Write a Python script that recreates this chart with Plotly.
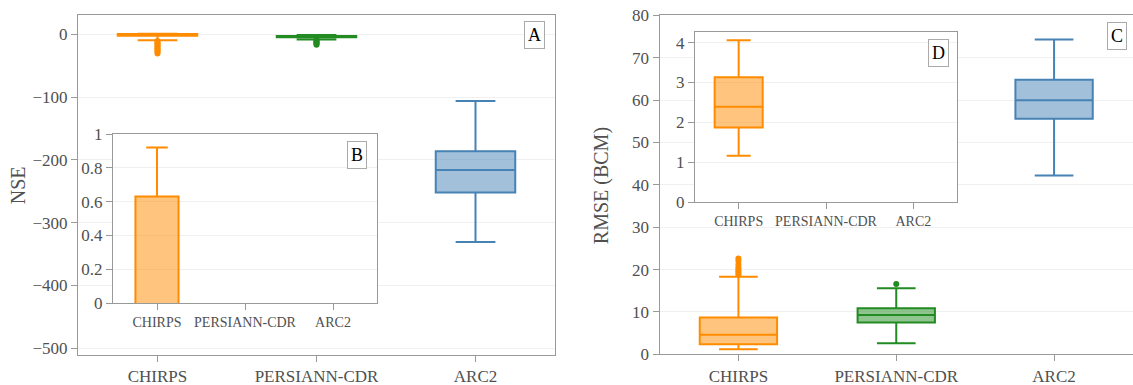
import plotly.graph_objects as go

W, H = 1133, 385

categories = ["CHIRPS", "PERSIANN-CDR", "ARC2"]
colors = ["#ff8c00", "#228b22", "#4682b4"]
fills = ["rgba(255,140,0,0.5)", "rgba(34,139,34,0.5)", "rgba(70,130,180,0.5)"]

# Panel A: NSE box statistics
nse_lowerfence = [-9.2, -8.0, -331]
nse_q1 = [-2.2, -4.6, -252]
nse_median = [-0.6, -3.3, -216]
nse_q3 = [0.63, -2.3, -186]
nse_upperfence = [0.92, -0.8, -106]
nse_outliers = [
    [-10.5, -12, -14, -16, -18, -20, -22, -24, -26, -28, -30.5],
    [-9, -10.5, -12, -13.5, -15, -16.5],
    [],
]

# Panel B (inset of A): CHIRPS NSE zoomed to [0, 1]
nseB_lowerfence = [-9.2]
nseB_q1 = [-2.2]
nseB_median = [-0.6]
nseB_q3 = [0.63]
nseB_upperfence = [0.92]

# Panel C: RMSE (BCM) box statistics
rmse_lowerfence = [1.2, 2.6, 42.2]
rmse_q1 = [2.4, 7.5, 55.6]
rmse_median = [4.6, 9.3, 60.0]
rmse_q3 = [8.7, 10.9, 64.8]
rmse_upperfence = [18.3, 15.6, 74.3]
rmse_outliers = [
    [18.8, 19.2, 19.6, 20.0, 20.5, 21.2, 22.0, 22.6],
    [16.6],
    [],
]

# Panel D (inset of C): CHIRPS RMSE
rmseD_lowerfence = [1.16]
rmseD_q1 = [1.87]
rmseD_median = [2.39]
rmseD_q3 = [3.13]
rmseD_upperfence = [4.06]

FONT = "Liberation Serif"
TXT = "#505050"
LINE = "#999"
GRID = "#f0f0f0"

fig = go.Figure()


def add_boxes(lf, q1, med, q3, uf, idxs, xa, ya, width, outliers=None):
    for k, i in enumerate(idxs):
        fig.add_trace(go.Box(
            x=[i], lowerfence=[lf[k]], q1=[q1[k]], median=[med[k]], q3=[q3[k]],
            upperfence=[uf[k]], width=width, whiskerwidth=0.5,
            fillcolor=fills[i], line=dict(color=colors[i], width=2),
            boxpoints=False, xaxis=xa, yaxis=ya, showlegend=False, hoverinfo="skip"))
        if outliers and outliers[k]:
            fig.add_trace(go.Scatter(
                x=[i] * len(outliers[k]), y=outliers[k], mode="markers",
                marker=dict(color=colors[i], size=6), xaxis=xa, yaxis=ya,
                showlegend=False, hoverinfo="skip"))


add_boxes(nse_lowerfence, nse_q1, nse_median, nse_q3, nse_upperfence, [0, 1, 2], "x", "y", 0.5, nse_outliers)
add_boxes(nseB_lowerfence, nseB_q1, nseB_median, nseB_q3, nseB_upperfence, [0], "x2", "y2", 0.49)
add_boxes(rmse_lowerfence, rmse_q1, rmse_median, rmse_q3, rmse_upperfence, [0, 1, 2], "x3", "y3", 0.49, rmse_outliers)
add_boxes(rmseD_lowerfence, rmseD_q1, rmseD_median, rmseD_q3, rmseD_upperfence, [0], "x4", "y4", 0.55)


def px(x0, x1):
    return [x0 / W, x1 / W]


def py(top, bottom):
    return [1 - bottom / H, 1 - top / H]


def xax(domain, anchor, size):
    return dict(domain=domain, anchor=anchor, range=[-0.5, 2.5], tickvals=[0, 1, 2],
                ticktext=categories, showline=True, mirror=True, linecolor=LINE,
                linewidth=1, ticks="outside", ticklen=6, tickcolor=LINE,
                showgrid=False, zeroline=False, automargin=False,
                tickfont=dict(family=FONT, size=size, color=TXT))


def yax(domain, anchor, rng, dtick, size=17):
    return dict(domain=domain, anchor=anchor, range=rng, dtick=dtick,
                showline=True, mirror=True, linecolor=LINE, linewidth=1,
                ticks="outside", ticklen=6, tickcolor=LINE, gridcolor=GRID,
                zeroline=False, automargin=False,
                tickfont=dict(family=FONT, size=size, color=TXT))


fig.update_layout(
    width=W, height=H,
    margin=dict(l=0, r=0, t=0, b=0, autoexpand=False),
    paper_bgcolor="white", plot_bgcolor="white",
    showlegend=False,
    xaxis=xax(px(78, 555), "y", 17),
    yaxis=yax(py(15, 355), "x", [-511, 31], 100),
    xaxis2=xax(px(113, 377), "y2", 14),
    yaxis2=yax(py(134, 303), "x2", [0, 1], 0.2),
    xaxis3=xax(px(659.5, 1133), "y3", 17),
    yaxis3=yax(py(15, 354.3), "x3", [0, 80.1], 10),
    xaxis4=xax(px(695, 957), "y4", 14),
    yaxis4=yax(py(32.3, 202), "x4", [0, 4.26], 1),
)


def ann(text, cx, cy, size=18, boxed=True, angle=0, color="black"):
    d = dict(text=text, x=cx / W, y=1 - cy / H, xref="paper", yref="paper",
             xanchor="center", yanchor="middle", showarrow=False, textangle=angle,
             font=dict(family=FONT, size=size, color=color))
    if boxed:
        d.update(bordercolor="#aaa", borderwidth=1, borderpad=3, bgcolor="white")
    fig.add_annotation(**d)


ann("A", 534, 35.5)
ann("B", 357, 154.5)
ann("C", 1117, 36)
ann("D", 938.7, 52.7)
ann("NSE", 18.3, 185, size=20, boxed=False, angle=-90, color=TXT)
ann("RMSE (BCM)", 601.7, 185.5, size=20, boxed=False, angle=-90, color=TXT)

fig.write_html("out.html", config={"displayModeBar": False},
               post_script="document.body.style.margin='0';")
